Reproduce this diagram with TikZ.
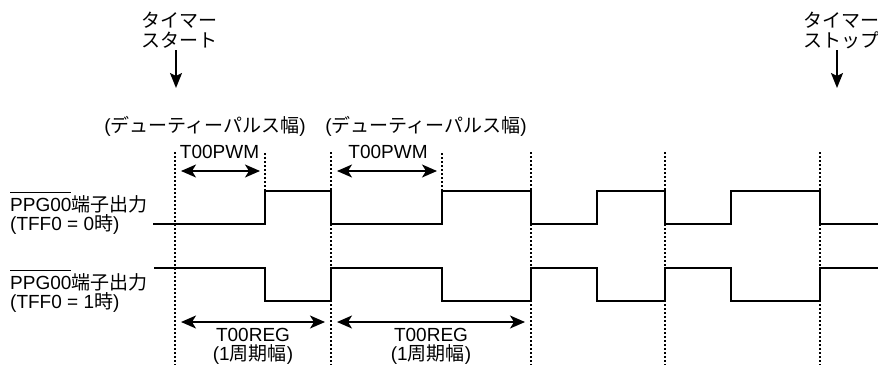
\documentclass[tikz,border=0pt]{standalone}
\usepackage{fontspec}
\setmainfont{Liberation Sans}
\newfontfamily\jp{Noto Sans CJK JP}
\usetikzlibrary{arrows.meta}
\newcommand\myovl[1]{\setbox0\hbox{#1}\rlap{\raisebox{\dimexpr\ht0+5pt\relax}{\rule{\wd0}{0.9pt}}}\box0}
\begin{document}
\begin{tikzpicture}[x=1pt,y=-1pt,
  font=\fontsize{19}{20}\selectfont,
  lbl/.style={inner sep=0pt, anchor=base, text height=13.5pt, text depth=3pt},
  lblw/.style={lbl, anchor=base west},
  sig/.style={line width=1.7pt, line join=miter},
  guide/.style={line width=1.3pt, dash pattern=on 2pt off 2pt},
  dimarr/.style={line width=1.6pt, {Stealth[length=15pt,width=13pt,inset=4pt]}-{Stealth[length=15pt,width=13pt,inset=4pt]}},
  startarr/.style={line width=1.8pt, -{Stealth[length=15pt,width=12pt,inset=3pt]}}]
\useasboundingbox (0,0) rectangle (878,365);

% top labels
\node[lbl] (ts1) at (179,27) {\jp タイマー};
\node[lbl] (ts2) at (179,47) {\jp スタート};
\node[lbl] (tp1) at (841,27) {\jp タイマー};
\node[lbl] (tp2) at (841,47) {\jp ストップ};
\coordinate (tsEnd) at (176,88);
\coordinate (tpEnd) at (837,88);
\draw[startarr] (ts2.south -| tsEnd) -- (tsEnd);
\draw[startarr] (tp2.south -| tpEnd) -- (tpEnd);

% duty labels
\node[lbl] (duty1) at (205,132) {({\jp デューティーパルス幅})};
\node[lbl] (duty2) at (426,132) {({\jp デューティーパルス幅})};
\node[lbl] (pwm1) at (219.5,158) {T00PWM};
\node[lbl] (pwm2) at (388,158) {T00PWM};

% left labels
\node[lblw] (out0a) at (10,211) {\myovl{PPG00}{\jp 端子出力}};
\node[lblw] (out0b) at (10,230) {(TFF0 = 0{\jp 時})};
\node[lblw] (out1a) at (10,289.5) {\myovl{PPG00}{\jp 端子出力}};
\node[lblw] (out1b) at (10,308.5) {(TFF0 = 1{\jp 時})};

% bottom labels
\node[lbl] (reg1) at (253,341.5) {T00REG};
\node[lbl] (reg1b) at (253,360.5) {(1{\jp 周期幅})};
\node[lbl] (reg2) at (431,341.5) {T00REG};
\node[lbl] (reg2b) at (431,360.5) {(1{\jp 周期幅})};

% guide lines
\foreach \x in {175,331,531,665,820} \draw[guide] (\x,152) -- (\x,365);
\foreach \x in {265,442} \draw[guide] (\x,153) -- (\x,191);

% signals
\draw[sig] (153,224) -- (265,224) -- (265,191) -- (331,191) -- (331,224)
  -- (442,224) -- (442,191) -- (531,191) -- (531,224) -- (597,224)
  -- (597,191) -- (665,191) -- (665,224) -- (731,224) -- (731,191)
  -- (820,191) -- (820,224) -- (878,224);
\draw[sig] (154,268) -- (265,268) -- (265,301) -- (331,301) -- (331,268)
  -- (442,268) -- (442,301) -- (531,301) -- (531,268) -- (597,268)
  -- (597,301) -- (665,301) -- (665,268) -- (731,268) -- (731,301)
  -- (820,301) -- (820,268) -- (878,268);

% dimension arrows
\coordinate (pa1) at (181,171); \coordinate (pb1) at (260,171);
\coordinate (pa2) at (337,171); \coordinate (pb2) at (437,171);
\coordinate (ra1) at (181,322); \coordinate (rb1) at (325,322);
\coordinate (ra2) at (337,322); \coordinate (rb2) at (525,322);
\draw[dimarr] (pa1) -- (pb1);
\draw[dimarr] (pa2) -- (pb2);
\draw[dimarr] (ra1) -- (rb1);
\draw[dimarr] (ra2) -- (rb2);
\end{tikzpicture}
\end{document}
